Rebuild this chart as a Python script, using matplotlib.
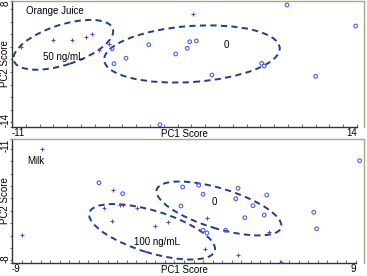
import matplotlib
matplotlib.use("Agg")
import matplotlib.pyplot as plt
from matplotlib.patches import Ellipse
from matplotlib.transforms import ScaledTranslation, blended_transform_factory
from matplotlib.ticker import MultipleLocator

plt.rcParams['font.family'] = ['Liberation Sans', 'DejaVu Sans']

# orange juice panel
oj_spiked_x = [-10.37, -8.01, -6.65, -5.64, -5.20, -4.72, -3.95, 2.12]
oj_spiked_y = [-0.03, 1.14, 1.19, 1.71, 2.24, -0.56, 0.44, 5.73]
oj_blank_x = [-3.75, -3.61, -2.74, -1.09, -0.28, 0.86, 1.88, 2.36, 1.70, 3.49,
              7.09, 7.28, 8.93, 11.01, 13.91]
oj_blank_y = [-0.33, -2.95, -2.00, 0.37, -13.6, -1.25, 0.89, 1.02, -0.26, -4.92,
              -2.88, -3.35, 7.30, -5.15, 3.63]

# milk panel
milk_spiked_x = [-7.45, -8.49, -3.73, -4.17, -3.35, -3.18, -2.47, -3.77, -1.50,
                 -0.84, 1.22, 4.43, 1.10, 2.83, 5.06]
milk_spiked_y = [9.51, -3.76, 3.19, 0.43, 0.84, 0.89, 0.47, -1.57, -2.33,
                 -1.76, -1.06, -3.20, -5.81, -6.82, -7.80]
milk_blank_x = [-4.45, -3.21, -0.07, -0.16, 0.77, 1.00, 2.83, 2.71, 4.33, 3.61,
                3.18, 4.20, 2.18, 1.00, 1.20, 6.79, 6.94, 9.19]
milk_blank_y = [4.30, 2.62, 3.64, 0.73, 3.91, 2.53, 3.45, 1.85, 2.42, 0.78,
                -1.06, -0.65, -2.99, -2.99, -3.40, -0.23, -2.75, 7.67]

# group ellipses: centre (data), width/height (inches), tilt (deg), label, label pos
oj_groups = [((-7.28, 0.35), 1.04, 0.40, 18, '50 ng/mL', (-7.27, -1.78)),
             ((2.04, -1.25), 1.76, 0.56, 4, '0', (4.5, 0.3))]
milk_groups = [((1.83, 0.35), 1.30, 0.40, -17, '0', (1.61, 1.35)),
               ((-1.67, -3.22), 1.31, 0.42, -17, '100 ng/mL', (-1.41, -4.78))]

navy = '#1f3c8f'
purple = '#7a3cc0'
blue = '#4f5cf2'
frame = '#a7a58a'

fig = plt.figure(figsize=(3.67, 2.76), dpi=100)
W, H = 367, 276


def panel(top, bottom, xlim, xend, ylim, ylabels, title, title_xy,
          sx, sy, bx, by, groups, xminor, yminor):
    ax = fig.add_axes([12 / W, 1 - bottom / H, 352 / W, (bottom - top) / H])
    ax.set_xlim(*xlim)
    ax.set_ylim(*ylim)
    for s in ['top', 'right']:
        ax.spines[s].set_color(frame)
        ax.spines[s].set_linewidth(1.0)
    for s in ['left', 'bottom']:
        ax.spines[s].set_color('#333333')
        ax.spines[s].set_linewidth(1.0)
    ax.spines['bottom'].set_bounds(xlim[0], xend)

    ax.set_xticks([xlim[0], xend], [f'{xlim[0]:g}', f'{xend:g}'])
    ax.set_yticks(ylim, [])
    ax.xaxis.set_minor_locator(MultipleLocator(xminor))
    ax.yaxis.set_minor_locator(MultipleLocator(yminor))
    ax.tick_params(axis='x', which='both', direction='in', length=2, width=0.6,
                   color='#555555', labelsize=7, pad=1)
    ax.tick_params(axis='y', which='both', direction='out', length=1.5,
                   width=0.6, color='#555555')
    xl = ax.get_xticklabels()
    xl[0].set_ha('left')
    xl[1].set_ha('right')

    # y tick labels and axis label sit in the narrow left margin
    lt = blended_transform_factory(fig.transFigure, ax.transData)
    ax.text(0.5 / W, ylim[0], ylabels[0], transform=lt, rotation=90,
            ha='left', va='bottom', fontsize=7)
    ax.text(0.5 / W, ylim[1], ylabels[1], transform=lt, rotation=90,
            ha='left', va='top', fontsize=7)
    ax.text(0.5 / W, (ylim[0] + ylim[1]) / 2, 'PC2 Score', transform=lt,
            rotation=90, ha='left', va='center', fontsize=7)

    ax.text(0.49, -0.015, 'PC1 Score', transform=ax.transAxes, ha='center',
            va='top', fontsize=7)

    ax.scatter(bx, by, s=7, facecolors='none', edgecolors=blue, linewidths=0.8,
               zorder=3)
    ax.scatter(sx, sy, s=7, marker='+', color=purple, linewidths=0.8, zorder=3)

    for centre, w, h, ang, lab, lab_xy in groups:
        tr = fig.dpi_scale_trans + ScaledTranslation(centre[0], centre[1],
                                                     ax.transData)
        ax.add_patch(Ellipse((0, 0), w, h, angle=ang, transform=tr,
                             fill=False, edgecolor=navy, linewidth=1.4,
                             linestyle=(0, (3.2, 2.2))))
        ax.text(lab_xy[0], lab_xy[1], lab, ha='center', va='center', fontsize=7)

    ax.text(title_xy[0], title_xy[1], title, transform=ax.transAxes,
            ha='left', va='center', fontsize=7)
    return ax


panel(1, 127, (-11, 14.51), 14, (-14, 8), ['-14', '8'],
      'Orange Juice', (14 / 352, 1 - 10 / 126),
      oj_spiked_x, oj_spiked_y, oj_blank_x, oj_blank_y, oj_groups, 1, 2.2)

panel(139, 263, (-9, 9.42), 9, (-8, 11), ['-8', '-11'],
      'Milk', (15 / 352, 1 - 22 / 124),
      milk_spiked_x, milk_spiked_y, milk_blank_x, milk_blank_y, milk_groups,
      0.5, 1.9)

fig.savefig('out.png', dpi=100)
